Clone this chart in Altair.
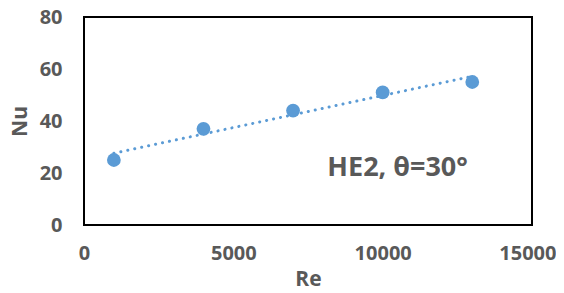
import altair as alt
import pandas as pd

re_vals = [1000, 4000, 7000, 10000, 13000]
nu_vals = [25, 37, 44, 51, 55]
label_text = ["HE2, θ=30°"]
label_x = [10500]
label_y = [22]

df = pd.DataFrame({"Re": re_vals, "Nu": nu_vals})
lab = pd.DataFrame({"x": label_x, "y": label_y, "t": label_text})

FONT = "Open Sans"
GRAY = "#595959"
BLUE = "#5B9BD5"

xs = alt.Scale(domain=[0, 15000], nice=False)
ys = alt.Scale(domain=[0, 80], nice=False)

xax = alt.Axis(values=[0, 5000, 10000, 15000], format="d", grid=False, ticks=False, domain=False,
               labelFont=FONT, labelFontSize=20, labelFontWeight="bold", labelColor=GRAY,
               labelPadding=18, title="Re", titleFont=FONT, titleFontSize=21,
               titleFontWeight="bold", titleColor=GRAY, titlePadding=5, labelFlush=False,
               labelOverlap=False,
               labelAlign={"condition": {"test": "datum.value == 15000", "value": "right"},
                           "value": "center"},
               labelOffset={"condition": {"test": "datum.value == 15000", "value": 24},
                            "value": 0})
yax = alt.Axis(values=[0, 20, 40, 60, 80], grid=False, ticks=False, domain=False,
               labelFont=FONT, labelFontSize=20, labelFontWeight="bold", labelColor=GRAY,
               labelPadding=22, title="Nu", titleFont=FONT, titleFontSize=21,
               titleFontWeight="bold", titleColor=GRAY, titlePadding=9, labelFlush=False,
               labelOverlap=False)

base = alt.Chart(df)

trend = base.transform_regression("Re", "Nu").mark_line(
    color=BLUE, strokeWidth=3, strokeDash=[0.1, 7], strokeCap="round"
).encode(x=alt.X("Re:Q", scale=xs, axis=xax), y=alt.Y("Nu:Q", scale=ys, axis=yax))

pts = base.mark_circle(color=BLUE, size=190, opacity=1).encode(
    x=alt.X("Re:Q", scale=xs), y=alt.Y("Nu:Q", scale=ys))

txt = alt.Chart(lab).mark_text(font=FONT, fontSize=27, fontWeight="bold", color=GRAY,
                               align="center", baseline="middle").encode(
    x=alt.X("x:Q", scale=xs), y=alt.Y("y:Q", scale=ys), text="t:N")

chart = alt.layer(trend, pts, txt).properties(
    width=448, height=208,
    autosize=alt.AutoSizeParams(type="none"),
    padding={"left": 76, "top": 9, "right": 24, "bottom": 66},
).configure_view(stroke="black", strokeWidth=2)

chart.save("out.html", embed_options={"renderer": "svg", "actions": False})
